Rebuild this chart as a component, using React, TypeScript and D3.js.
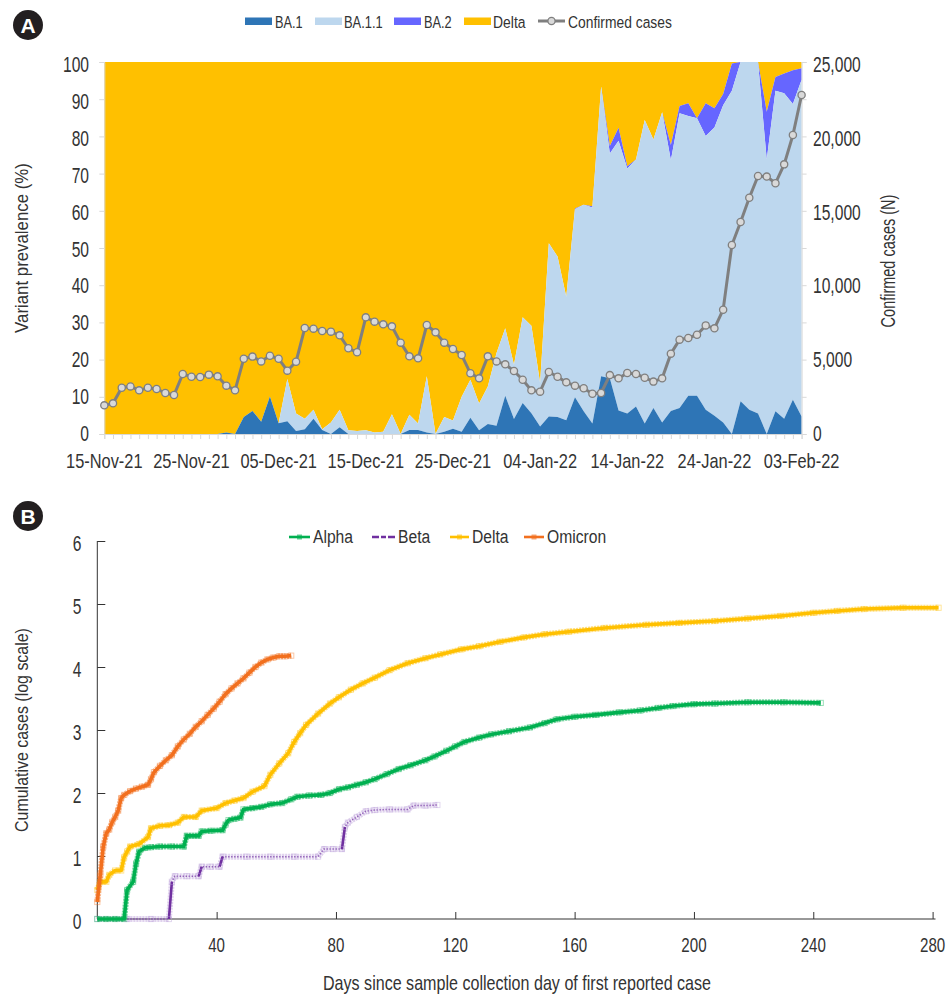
import React, { useEffect, useRef } from "react";
import * as d3 from "d3";

const ba1 = [0,0,0,0,0,0,0,0,0,0,0,0,0,0,0.4,0,4.6,6.2,3.3,10.1,2.9,3.4,0.8,1.3,4.1,1.1,0,1.8,0,0,0,0,0,0,0,1.1,1.1,0.4,0,0.6,1.4,0.6,4.4,1,2.7,2.2,10.3,4,8.3,5.6,2,4.7,4.6,3.7,9.9,6.1,2.8,15.5,15,6.3,5.5,7.4,2.8,7,3.1,6.2,7,10.3,10.3,6.5,4.9,3.1,0,8.8,6.5,5.5,0,6.1,4.1,9.2,4.7];
const ba11 = [0,0,0,0,0,0,0,0,0,0,0,0,0,0,0,0,0,0,0,0,0,11.4,4.7,2.8,2.4,0.2,3.1,4.7,1,0.8,1,0.4,0.6,5.3,0,4.1,1.7,15.1,0,4,2.2,9.4,10.2,7.2,10.1,19.6,18.1,14.6,23.1,23.5,11.7,46.6,43.1,33.2,50.5,55.5,58.1,77.9,60.4,72.5,65.9,66.4,81.6,72.2,83.4,67.4,79.2,75.2,74.6,73.6,77.5,85.3,92.3,91.2,93.5,94.5,73.8,86.2,87.5,79.5,90.5];
const ba2 = [0,0,0,0,0,0,0,0,0,0,0,0,0,0,0,0,0,0,0,0,0,0,0,0,0,0,0,0,0,0,0,0,0,0,0,0,0,0,0,0,0,0,0,0,0,0,0,0,0,0,0,0,0,0,0.2,0,0.3,0,2,3.5,0.6,0,0,0,0,4.1,2,3.4,0,8.8,5.2,3,7.3,0,0,0,12.8,3.7,5.3,9.1,3.1];
const confirmed = [1926,2060,3113,3200,2934,3113,3024,2755,2620,4030,3850,3830,3990,3875,3248,2934,5060,5200,4880,5260,5060,4256,4860,7120,7080,6920,6880,6630,5760,5490,7840,7550,7370,7235,6140,5220,5085,7325,6830,6140,5710,5310,4080,3740,5220,4880,4680,4230,3650,2934,2845,4170,3850,3470,3250,3070,2710,2755,3960,3740,4100,4030,3785,3520,3740,5400,6340,6450,6675,7300,7100,8355,12700,14250,15880,17340,17300,16850,18120,20090,22780];
const startDate = Date.UTC(2021, 10, 15);
const dayMs = 86400000;

const alpha: [number, number][] = [[0,0],[3,0],[6,0],[9,0],[10,0.46],[12,0.59],[13,0.88],[14,1.07],[16,1.13],[18,1.14],[21,1.15],[25,1.15],[29,1.15],[30,1.32],[32,1.32],[34,1.32],[35,1.39],[38,1.4],[42,1.41],[43,1.5],[44,1.57],[46,1.59],[48,1.61],[49,1.74],[52,1.76],[55,1.78],[58,1.82],[62,1.84],[65,1.9],[67,1.94],[71,1.96],[75,1.97],[78,2.0],[81,2.06],[84,2.09],[87,2.13],[90,2.17],[93,2.22],[97,2.3],[101,2.38],[105,2.44],[110,2.52],[113,2.58],[117,2.67],[120,2.74],[123,2.81],[128,2.88],[132,2.93],[138,2.98],[145,3.04],[150,3.11],[154,3.17],[160,3.21],[167,3.24],[175,3.28],[182,3.31],[188,3.35],[193,3.38],[200,3.41],[207,3.42],[218,3.44],[230,3.44],[242.5,3.43]];
const beta: [number, number][] = [[0,0],[10,0],[18,0],[24,0],[25,0.59],[26,0.68],[30,0.68],[34,0.68],[35,0.83],[38,0.83],[41,0.83],[42,0.99],[50,0.99],[58,0.99],[66,0.99],[74,0.99],[76,1.11],[79,1.11],[82,1.11],[83,1.46],[84,1.53],[87,1.62],[90,1.71],[93,1.73],[98,1.74],[104,1.74],[106,1.8],[110,1.8],[114,1.81]];
const delta: [number, number][] = [[0,0.46],[1,0.59],[3,0.59],[4,0.7],[6,0.77],[8,0.77],[9,0.98],[10,1.07],[11,1.15],[14,1.19],[17,1.3],[18,1.44],[21,1.48],[24,1.49],[27,1.53],[29,1.62],[33,1.62],[35,1.72],[40,1.76],[43,1.84],[46,1.88],[49,1.92],[52,2.02],[56,2.11],[58,2.29],[61,2.47],[64,2.63],[66,2.81],[68,2.95],[70,3.08],[74,3.26],[78,3.42],[81,3.52],[85,3.64],[89,3.74],[93,3.83],[98,3.95],[104,4.06],[110,4.14],[115,4.2],[122,4.28],[128,4.33],[135,4.4],[143,4.47],[150,4.52],[158,4.56],[170,4.62],[184,4.67],[195,4.7],[207,4.73],[218,4.77],[229,4.81],[240,4.86],[248,4.89],[257,4.92],[270,4.94],[282,4.94]];
const omicron: [number, number][] = [[0,0.27],[1,0.7],[2,1.15],[3,1.36],[4,1.42],[5,1.54],[6,1.62],[7,1.72],[8,1.92],[9,1.97],[11,2.03],[13,2.07],[15,2.1],[17,2.13],[18,2.22],[19,2.33],[21,2.43],[23,2.52],[25,2.6],[27,2.74],[29,2.85],[31,2.94],[33,3.05],[35,3.14],[37,3.24],[39,3.34],[41,3.45],[43,3.57],[45,3.66],[47,3.74],[49,3.82],[51,3.91],[53,4.0],[55,4.07],[57,4.12],[59,4.15],[61,4.17],[63,4.17],[65,4.18]];

const FONT = "'Liberation Sans',Arial,sans-serif";
const INK = "#333333";

export default function App() {
  const ref = useRef<SVGSVGElement>(null);
  useEffect(() => {
    const svg = d3.select(ref.current!);
    svg.selectAll("*").remove();
    svg.attr("font-family", FONT).attr("fill", INK);

    const label = (x: number, y: number, s: string, size: number, sx: number, anchor = "start", rot = 0) => {
      svg.append("text").attr("transform", `translate(${x},${y}) rotate(${rot}) scale(${sx},1)`)
        .attr("text-anchor", anchor).attr("font-size", size).attr("fill", INK).text(s);
    };
    const badge = (cy: number, s: string) => {
      svg.append("circle").attr("cx", 28).attr("cy", cy).attr("r", 15).attr("fill", "#231f20");
      svg.append("text").attr("x", 28).attr("y", cy + 7.5).attr("text-anchor", "middle")
        .attr("font-weight", 700).attr("font-size", 21).attr("fill", "#fff").text(s);
    };
    badge(25, "A");
    badge(516, "B");

    // Panel A
    const xA = d3.scaleUtc().domain([startDate, startDate + 80 * dayMs]).range([104.3, 801.6]);
    const yPct = d3.scaleLinear().domain([0, 100]).range([434, 62]);
    const yN = d3.scaleLinear().domain([0, 25000]).range([434, 62]);
    const rows = confirmed.map((c, i) => ({
      date: startDate + i * dayMs,
      "BA.1": ba1[i], "BA.1.1": ba11[i], "BA.2": ba2[i],
      Delta: Math.max(0, 100 - ba1[i] - ba11[i] - ba2[i]), c,
    }));
    const keysA = ["BA.1", "BA.1.1", "BA.2", "Delta"];
    const colA: Record<string, string> = { "BA.1": "#2e75b6", "BA.1.1": "#bdd7ee", "BA.2": "#6666ff", Delta: "#ffc000" };
    const stacked = d3.stack<any>().keys(keysA)(rows);
    const area = d3.area<any>().x((d) => xA(d.data.date)).y0((d) => yPct(d[0])).y1((d) => yPct(d[1]));
    const gA = svg.append("g");
    [...stacked].reverse().forEach((s) => {
      gA.append("path").attr("d", area(s as any)!).attr("fill", colA[s.key]);
    });

    const styleAxis = (g: any, stroke: string) => {
      g.selectAll("path,line").attr("stroke", stroke);
    };
    const labelBaselineA = d3.scaleLinear().domain([0, 1]).range([441, 72]);
    const leftA = svg.append("g").attr("transform", "translate(104.3,0)")
      .call(d3.axisLeft(yPct).tickValues(d3.range(0, 101, 10)).tickSize(5).tickFormat(() => "") as any);
    styleAxis(leftA, "#d9d9d9");
    d3.range(0, 101, 10).forEach((v) => label(89, labelBaselineA(v / 100), String(v), 22, 0.71, "end"));
    const rightA = svg.append("g").attr("transform", "translate(801.6,0)")
      .call(d3.axisRight(yN).tickValues(d3.range(0, 25001, 2500)).tickSize(5).tickFormat(() => "") as any);
    styleAxis(rightA, "#d9d9d9");
    d3.range(0, 25001, 5000).forEach((v) => label(813, labelBaselineA(v / 25000), d3.format(",")(v), 22, 0.71));
    const allDays = rows.map((r) => new Date(r.date));
    const botMinor = svg.append("g").attr("transform", "translate(0,434)")
      .call(d3.axisBottom(xA).tickValues(allDays).tickSize(5).tickFormat(() => "") as any);
    styleAxis(botMinor, "#d9d9d9");
    allDays.filter((_, i) => i % 10 === 0).forEach((d) =>
      label(xA(d), 468, d3.utcFormat("%d-%b-%y")(d), 20, 0.82, "middle"));

    const lineN = d3.line<any>().x((d) => xA(d.date)).y((d) => yN(d.c));
    svg.append("path").attr("d", lineN(rows)!).attr("fill", "none").attr("stroke", "#7f7f7f").attr("stroke-width", 3);
    svg.append("g").selectAll("circle").data(rows).join("circle")
      .attr("cx", (d) => xA(d.date)).attr("cy", (d) => yN(d.c)).attr("r", 3.6)
      .attr("fill", "#d9d9d9").attr("stroke", "#7f7f7f").attr("stroke-width", 1.3);

    label(28, 248, "Variant prevalence (%)", 19, 0.885, "middle", -90);
    label(895, 261, "Confirmed cases (N)", 21, 0.69, "middle", -90);

    const legA: [string, number, number, number][] = [["BA.1", 245, 275, 0.75], ["BA.1.1", 315, 344, 0.76], ["BA.2", 394, 424, 0.75], ["Delta", 464, 493, 0.82]];
    legA.forEach(([k, x, tx, sx]) => {
      svg.append("rect").attr("x", x).attr("y", 17.5).attr("width", 27).attr("height", 7.5).attr("fill", colA[k]);
      label(tx, 28, k, 17, sx);
    });
    svg.append("line").attr("x1", 538).attr("x2", 565).attr("y1", 21).attr("y2", 21).attr("stroke", "#7f7f7f").attr("stroke-width", 3);
    svg.append("circle").attr("cx", 551.5).attr("cy", 21).attr("r", 3.6).attr("fill", "#d9d9d9").attr("stroke", "#7f7f7f").attr("stroke-width", 1.3);
    label(568, 28, "Confirmed cases", 17, 0.815);

    // Panel B
    const xB = d3.scaleLinear().domain([0, 280]).range([97.3, 932.6]);
    const yB = d3.scaleLinear().domain([0, 6]).range([919, 541]);
    const leftB = svg.append("g").attr("transform", "translate(97.3,0)")
      .call(d3.axisRight(yB).tickValues(d3.range(0, 7)).tickSize(8).tickFormat(() => "") as any);
    styleAxis(leftB, "#333333");
    leftB.select("path").attr("d", "M0,541V919");
    d3.range(0, 7).forEach((v) => label(81.5, yB(v) + 10, String(v), 22, 0.71, "end"));
    const botB = svg.append("g").attr("transform", "translate(0,919)")
      .call(d3.axisTop(xB).tickValues(d3.range(40, 281, 40)).tickSize(7).tickFormat(() => "") as any);
    styleAxis(botB, "#333333");
    botB.select("path").attr("d", "M97.3,0H935.5");
    d3.range(40, 281, 40).forEach((v) => label(xB(v), 952, String(v), 21, 0.72, "middle"));

    const lineB = d3.line<[number, number]>().x((d) => xB(d[0])).y((d) => yB(d[1]));
    const series: [string, [number, number][], string][] = [
      ["Beta", beta, "#7030a0"], ["Alpha", alpha, "#00b050"], ["Delta", delta, "#ffc000"], ["Omicron", omicron, "#f2701f"],
    ];
    const marker = (g: any, pts: [number, number][], col: string) => {
      g.selectAll("rect").data(pts).join("rect")
        .attr("x", (d: any) => xB(d[0]) - 2.6).attr("y", (d: any) => yB(d[1]) - 2.6)
        .attr("width", 5.2).attr("height", 5.2).attr("fill", "none")
        .attr("stroke", col).attr("stroke-opacity", 0.4).attr("stroke-width", 1);
    };
    series.forEach(([name, pts, col]) => {
      const g = svg.append("g");
      const isBeta = name === "Beta";
      g.append("path").attr("d", lineB(pts)!).attr("fill", "none").attr("stroke", isBeta ? "#b79ad6" : col)
        .attr("stroke-opacity", isBeta ? 0.45 : 0.5).attr("stroke-width", 6).attr("stroke-dasharray", "2.2 0.8");
      if (isBeta) {
        g.append("path").attr("d", lineB(pts)!).attr("fill", "none").attr("stroke", "#7030a0")
          .attr("stroke-opacity", 0.7).attr("stroke-width", 1.5).attr("stroke-dasharray", "1.4 1.6");
        d3.pairs(pts).filter(([a, b]) => b[1] - a[1] > 0.14).forEach((p) => {
          g.append("path").attr("d", lineB(p as any)!).attr("fill", "none").attr("stroke", col).attr("stroke-width", 2.6);
        });
      } else {
        g.append("path").attr("d", lineB(pts)!).attr("fill", "none").attr("stroke", col).attr("stroke-width", 3.6);
      }
      marker(g, pts, isBeta ? "#b79ad6" : col);
    });

    label(28, 730, "Cumulative cases (log scale)", 19, 0.84, "middle", -90);
    label(517, 990, "Days since sample collection day of first reported case", 20, 0.805, "middle");

    const legB: [string, number, number, number, string][] = [
      ["Alpha", 289, 310, 313, "#00b050"], ["Beta", 372, 395, 398, "#7030a0"],
      ["Delta", 450, 469, 472, "#ffc000"], ["Omicron", 524, 544, 547, "#f2701f"],
    ];
    legB.forEach(([k, x1, x2, tx, col]) => {
      const dash = k === "Beta" ? "7 2 5 2 7" : null;
      svg.append("line").attr("x1", x1).attr("x2", x2).attr("y1", 537).attr("y2", 537)
        .attr("stroke", col).attr("stroke-width", 2.6).attr("stroke-dasharray", dash);
      if (k !== "Beta") {
        svg.append("rect").attr("x", (x1 + x2) / 2 - 2.5).attr("y", 534.5).attr("width", 5).attr("height", 5)
          .attr("fill", col).attr("fill-opacity", 0.6);
      }
      label(tx, 543, k, 18, 0.87);
    });
  }, []);
  return (
    <svg ref={ref} width={951} height={996} viewBox="0 0 951 996"
      style={{ position: "absolute", left: 0, top: 0, display: "block", background: "#fff" }} />
  );
}
